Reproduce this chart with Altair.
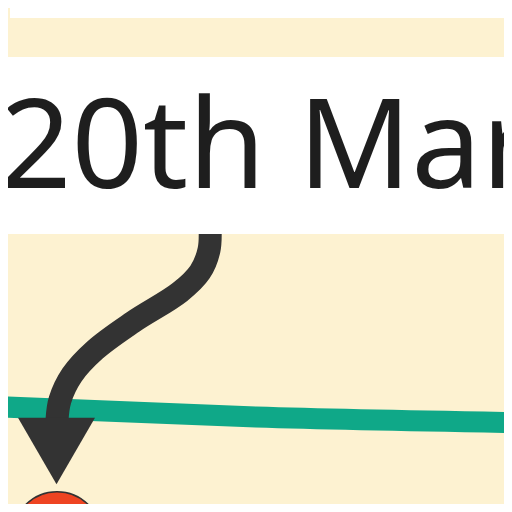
import pandas as pd
import altair as alt

# page-pixel style coordinates of the zoomed-in annotation
series_x = [-20, 256, 540]
series_y = [406, 417, 423]

arrow_x = [210, 209, 200, 180, 133, 95, 72, 60, 57]
arrow_y = [225, 250, 272, 292, 322, 350, 375, 400, 420]

head_x = [56.5]
head_y = [451]

event_x = [57]
event_y = [536]
event_label = ["20th Mar"]

box_x = [10, -50]
box_x2 = [600, 600]
box_y = [-50, 57]
box_y2 = [18, 234]

label_x = [0]
label_y = [188]

CREAM = "#fdf2d1"
xs = alt.Scale(domain=[8, 504], nice=False, zero=False)
ys = alt.Scale(domain=[8, 504], nice=False, zero=False, reverse=True)

series = pd.DataFrame({"x": series_x, "y": series_y})
arrow = pd.DataFrame({"x": arrow_x, "y": arrow_y, "i": range(len(arrow_x))})
head = pd.DataFrame({"x": head_x, "y": head_y})
event = pd.DataFrame({"x": event_x, "y": event_y})
boxes = pd.DataFrame({"x": box_x, "x2": box_x2, "y": box_y, "y2": box_y2})
label = pd.DataFrame({"x": label_x, "y": label_y, "text": event_label})

line = alt.Chart(series).mark_line(
    color="#0fa888", strokeWidth=21, interpolate="monotone"
).encode(
    x=alt.X("x:Q", scale=xs, axis=None),
    y=alt.Y("y:Q", scale=ys, axis=None),
)

arrow_line = alt.Chart(arrow).mark_line(
    color="#333333", strokeWidth=23, interpolate="catmull-rom", strokeCap="butt"
).encode(
    x=alt.X("x:Q", scale=xs, axis=None),
    y=alt.Y("y:Q", scale=ys, axis=None),
    order="i:Q",
)

arrow_head = alt.Chart(head).mark_point(
    shape="triangle-down", size=5929, filled=True, color="#333333", opacity=1
).encode(
    x=alt.X("x:Q", scale=xs, axis=None),
    y=alt.Y("y:Q", scale=ys, axis=None),
)

white = alt.Chart(boxes).mark_rect(color="white").encode(
    x=alt.X("x:Q", scale=xs, axis=None),
    x2="x2:Q",
    y=alt.Y("y:Q", scale=ys, axis=None),
    y2="y2:Q",
)

text = alt.Chart(label).mark_text(
    align="left", baseline="alphabetic", font="Noto Sans", fontSize=125,
    color="#1e1e1e"
).encode(
    x=alt.X("x:Q", scale=xs, axis=None),
    y=alt.Y("y:Q", scale=ys, axis=None),
    text="text:N",
)

dot = alt.Chart(event).mark_point(
    shape="circle", size=7854, filled=True, fill="#ee4422",
    stroke="#333333", strokeWidth=1.5, opacity=1
).encode(
    x=alt.X("x:Q", scale=xs, axis=None),
    y=alt.Y("y:Q", scale=ys, axis=None),
)

chart = alt.layer(line, arrow_line, arrow_head, white, text, dot).properties(
    width=496, height=496, padding=0, autosize="none", background=CREAM
).configure_view(fill=CREAM, strokeWidth=0)

chart.save("out.html", embed_options={"renderer": "svg", "actions": False})
